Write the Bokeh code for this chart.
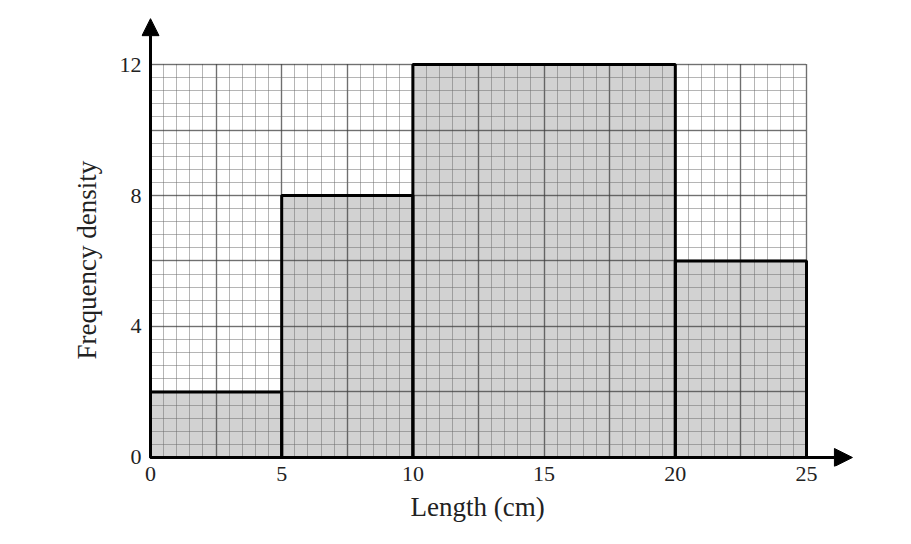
from bokeh.plotting import figure
from bokeh.models import (Range1d, SingleIntervalTicker, FixedTicker, Grid, Arrow,
                          NormalHead, LinearAxis, Title)
from bokeh.embed import file_html
from bokeh.resources import INLINE

# ---- data ----
bin_left = [0, 5, 10, 20]
bin_right = [5, 10, 20, 25]
freq_density = [2, 8, 12, 6]
x_ticks = [0, 5, 10, 15, 20, 25]
y_ticks = [0, 4, 8, 12]
x_label = "Length (cm)"
y_label = "Frequency density"
x_max = 25
y_max = 12

FONT = "Liberation Serif"

p = figure(width=895, height=528,
           x_range=Range1d(-0.343, 27.21), y_range=Range1d(-0.275, 13.588),
           output_backend="svg", toolbar_location=None,
           x_axis_type=None, y_axis_type=None,
           min_border_left=141, min_border_right=31,
           min_border_top=12, min_border_bottom=62)
p.outline_line_color = None
p.background_fill_color = "white"
p.border_fill_color = "white"

# bar fills (under the grid)
p.quad(left=bin_left, right=bin_right, bottom=0, top=freq_density,
       fill_color="#d2d2d2", line_color=None, level="image")

# graph-paper grid
xg = Grid(dimension=0, ticker=SingleIntervalTicker(interval=2.5, num_minor_ticks=5),
          bounds=(0, x_max))
yg = Grid(dimension=1, ticker=SingleIntervalTicker(interval=2, num_minor_ticks=5),
          bounds=(0, y_max))
has_cross = "cross_bounds" in Grid.properties()
for g, cb in ((xg, (0, y_max)), (yg, (0, x_max))):
    if has_cross:
        g.cross_bounds = cb
    g.grid_line_color = "#2a2a2a"
    g.grid_line_dash = "1 1"
    g.grid_line_width = 1.5
    g.minor_grid_line_color = "#6a6a6a"
    g.minor_grid_line_dash = "1 1"
    g.minor_grid_line_width = 1
    p.add_layout(g)

# bar outlines
p.quad(left=bin_left, right=bin_right, bottom=0, top=freq_density,
       fill_color=None, line_color="black", line_width=3)

# axes (tick labels only; the lines are drawn as arrows)
xaxis = LinearAxis(ticker=FixedTicker(ticks=x_ticks))
yaxis = LinearAxis(ticker=FixedTicker(ticks=y_ticks))
for ax in (xaxis, yaxis):
    ax.axis_line_color = None
    ax.major_tick_out = 0
    ax.major_tick_in = 0
    ax.minor_tick_out = 0
    ax.minor_tick_in = 0
    ax.major_label_text_font = FONT
    ax.major_label_text_font_size = "22px"
    ax.major_label_text_color = "#222222"
xaxis.major_label_standoff = 0
yaxis.major_label_standoff = 0
yaxis.major_label_orientation = "horizontal"
p.add_layout(xaxis, "below")
p.add_layout(yaxis, "left")

# axis lines with arrow heads
p.add_layout(Arrow(end=NormalHead(size=18, fill_color="black", line_color="black"),
                   x_start=0, y_start=0, x_end=26.75, y_end=0,
                   line_width=3, line_color="black"))
p.add_layout(Arrow(end=NormalHead(size=17, fill_color="black", line_color="black"),
                   x_start=0, y_start=0, x_end=0, y_end=13.4,
                   line_width=3, line_color="black"))

# axis titles (placed as side titles, offset so they centre on the 0-25 / 0-12 grid)
xt = Title(text=x_label, align="left", offset=269, standoff=13,
           text_font=FONT, text_font_size="27px", text_font_style="normal",
           text_color="#222222")
yt = Title(text=y_label, align="left", offset=107, standoff=30,
           text_font=FONT, text_font_size="27px", text_font_style="normal",
           text_color="#222222")
p.add_layout(xt, "below")
p.add_layout(yt, "left")

open("out.html", "w").write(file_html(p, INLINE))
